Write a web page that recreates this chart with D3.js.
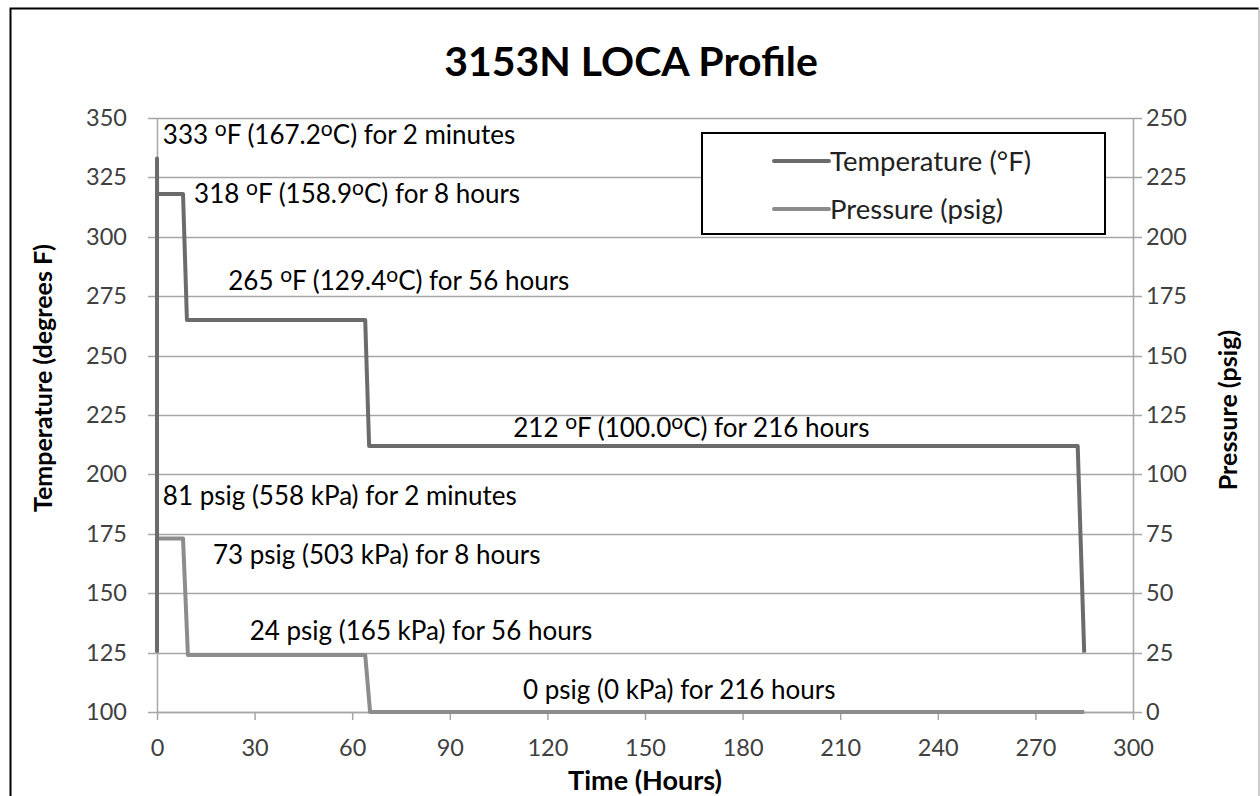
<!DOCTYPE html>
<html>
<head>
<meta charset="utf-8">
<script src="https://cdn.jsdelivr.net/npm/d3@7"></script>
<style>
  body { margin: 0; background: #fff; }
  text { font-family: Lato, "Open Sans", sans-serif; }
</style>
</head>
<body>
<div id="chart"></div>
<script>
// series: [hours, value]
var tempHours = [0, 0, 0.033, 8, 9.2, 64, 65.2, 283, 285];
var tempValues = [125, 333, 318, 318, 265, 265, 212, 212, 125];
var presHours = [0, 0, 0.033, 8, 9.5, 64, 65.5, 285];
var presValues = [25, 81, 73, 73, 24, 24, 0, 0];

var xTicks = [0, 30, 60, 90, 120, 150, 180, 210, 240, 270, 300];
var leftTicks = [100, 125, 150, 175, 200, 225, 250, 275, 300, 325, 350];
var rightTicks = [0, 25, 50, 75, 100, 125, 150, 175, 200, 225, 250];

// annotation text pieces (anchor in hours / left axis units)
var tempNotes = [
  {h: 1.8, v: 343, a: "333 ", b: "F (167.2", c: "C) for 2 minutes"},
  {h: 11.4, v: 318, a: "318 ", b: "F (158.9", c: "C) for 8 hours"},
  {h: 21.9, v: 281.5, a: "265 ", b: "F (129.4", c: "C) for 56 hours"},
  {h: 109.5, v: 219.5, a: "212 ", b: "F (100.0", c: "C) for 216 hours"}
];
var presNotes = [
  {h: 1.8, v: 191, t: "81 psig (558 kPa) for 2 minutes"},
  {h: 17.2, v: 166, t: "73 psig (503 kPa) for 8 hours"},
  {h: 28.5, v: 134, t: "24 psig (165 kPa) for 56 hours"},
  {h: 112.5, v: 109.5, t: "0 psig (0 kPa) for 216 hours"}
];

var width = 1260, height = 796;
var margin = {top: 118, right: 127, bottom: 84, left: 157};

var svg = d3.select("#chart").append("svg")
    .attr("width", width)
    .attr("height", height);

// outer frame
svg.append("path")
    .attr("d", "M10.5,796 L10.5,8.5 L1258.5,8.5")
    .attr("fill", "none").attr("stroke", "#000").attr("stroke-width", 2);
svg.append("line")
    .attr("x1", 1259).attr("x2", 1259).attr("y1", 9).attr("y2", 796)
    .attr("stroke", "#999").attr("stroke-width", 1);

var x = d3.scaleLinear().domain([0, 300]).range([margin.left, width - margin.right]);
var yL = d3.scaleLinear().domain([100, 350]).range([height - margin.bottom, margin.top]);
var yR = d3.scaleLinear().domain([0, 250]).range([height - margin.bottom, margin.top]);

// gridlines
svg.append("g").selectAll("line")
    .data(leftTicks)
    .enter().append("line")
    .attr("x1", margin.left - 9)
    .attr("x2", width - margin.right + 9)
    .attr("y1", function (d) { return Math.round(yL(d)) + 0.5; })
    .attr("y2", function (d) { return Math.round(yL(d)) + 0.5; })
    .attr("stroke", "#a6a6a6")
    .attr("stroke-width", 1.5);

var xAxis = d3.axisBottom(x).tickValues(xTicks).tickSize(8).tickSizeOuter(0).tickPadding(19);
var yAxisL = d3.axisLeft(yL).tickValues(leftTicks).tickSize(0).tickSizeOuter(0).tickPadding(30);
var yAxisR = d3.axisRight(yR).tickValues(rightTicks).tickSize(0).tickSizeOuter(0).tickPadding(13);

function styleAxis(g) {
  g.select(".domain").attr("stroke", "#a6a6a6").attr("stroke-width", 1.5);
  g.selectAll(".tick line").attr("stroke", "#a6a6a6").attr("stroke-width", 1.5);
  g.selectAll(".tick text").attr("fill", "#404040").style("font-size", "23.5px");
}

svg.append("g")
    .attr("transform", "translate(0," + (height - margin.bottom) + ")")
    .call(xAxis).call(styleAxis);
svg.append("g")
    .attr("transform", "translate(" + margin.left + ",0)")
    .call(yAxisL).call(styleAxis);
svg.append("g")
    .attr("transform", "translate(" + (width - margin.right) + ",0)")
    .call(yAxisR).call(styleAxis);

// lines
var tempData = tempHours.map(function (h, i) { return [h, tempValues[i]]; });
var presData = presHours.map(function (h, i) { return [h, presValues[i]]; });

var tempLine = d3.line()
    .x(function (d) { return x(d[0]); })
    .y(function (d) { return yL(d[1]); });
var presLine = d3.line()
    .x(function (d) { return x(d[0]); })
    .y(function (d) { return yR(d[1]); });

svg.append("path")
    .datum(presData)
    .attr("d", presLine)
    .attr("fill", "none")
    .attr("stroke", "#8c8c8c")
    .attr("stroke-width", 4)
    .attr("stroke-linejoin", "round");

svg.append("path")
    .datum(tempData)
    .attr("d", tempLine)
    .attr("fill", "none")
    .attr("stroke", "#6b6b6b")
    .attr("stroke-width", 4)
    .attr("stroke-linejoin", "round");

// annotations
var tn = svg.append("g").selectAll("text")
    .data(tempNotes)
    .enter().append("text")
    .attr("x", function (d) { return x(d.h); })
    .attr("y", function (d) { return yL(d.v); })
    .attr("dy", "0.35em")
    .attr("fill", "#000")
    .style("font-size", "26px");
tn.append("tspan").text(function (d) { return d.a; });
tn.append("tspan").attr("dy", "-8").style("font-size", "21px").text("o");
tn.append("tspan").attr("dy", "8").text(function (d) { return d.b; });
tn.append("tspan").attr("dy", "-8").style("font-size", "21px").text("o");
tn.append("tspan").attr("dy", "8").text(function (d) { return d.c; });

svg.append("g").selectAll("text")
    .data(presNotes)
    .enter().append("text")
    .attr("x", function (d) { return x(d.h); })
    .attr("y", function (d) { return yL(d.v); })
    .attr("dy", "0.35em")
    .attr("fill", "#000")
    .style("font-size", "26px")
    .text(function (d) { return d.t; });

// title & axis titles
svg.append("text")
    .attr("x", 631).attr("y", 62).attr("dy", "0.35em")
    .attr("text-anchor", "middle")
    .style("font-size", "41px").style("font-weight", "bold")
    .text("3153N LOCA Profile");

svg.append("text")
    .attr("transform", "translate(43,378) rotate(-90)")
    .attr("dy", "0.35em")
    .attr("text-anchor", "middle")
    .style("font-size", "25px").style("font-weight", "bold")
    .text("Temperature (degrees F)");

svg.append("text")
    .attr("transform", "translate(1228,410) rotate(-90)")
    .attr("dy", "0.35em")
    .attr("text-anchor", "middle")
    .style("font-size", "25px").style("font-weight", "bold")
    .text("Pressure (psig)");

svg.append("text")
    .attr("x", 645).attr("y", 781).attr("dy", "0.35em")
    .attr("text-anchor", "middle")
    .style("font-size", "27px").style("font-weight", "bold")
    .text("Time (Hours)");

// legend
var legend = svg.append("g").attr("transform", "translate(702,133)");
legend.append("rect")
    .attr("width", 403).attr("height", 101)
    .attr("fill", "#fff").attr("stroke", "#000").attr("stroke-width", 2);
var legendItems = [
  {name: "Temperature (°F)", color: "#6b6b6b", y: 28},
  {name: "Pressure (psig)", color: "#8c8c8c", y: 76}
];
var li = legend.selectAll(".item").data(legendItems).enter().append("g")
    .attr("transform", function (d) { return "translate(0," + d.y + ")"; });
li.append("line")
    .attr("x1", 72).attr("x2", 127)
    .attr("stroke", function (d) { return d.color; })
    .attr("stroke-width", 4).attr("stroke-linecap", "round");
li.append("text")
    .attr("x", 128).attr("dy", "0.35em")
    .attr("fill", "#222")
    .style("font-size", "27.5px")
    .text(function (d) { return d.name; });
</script>
</body>
</html>
